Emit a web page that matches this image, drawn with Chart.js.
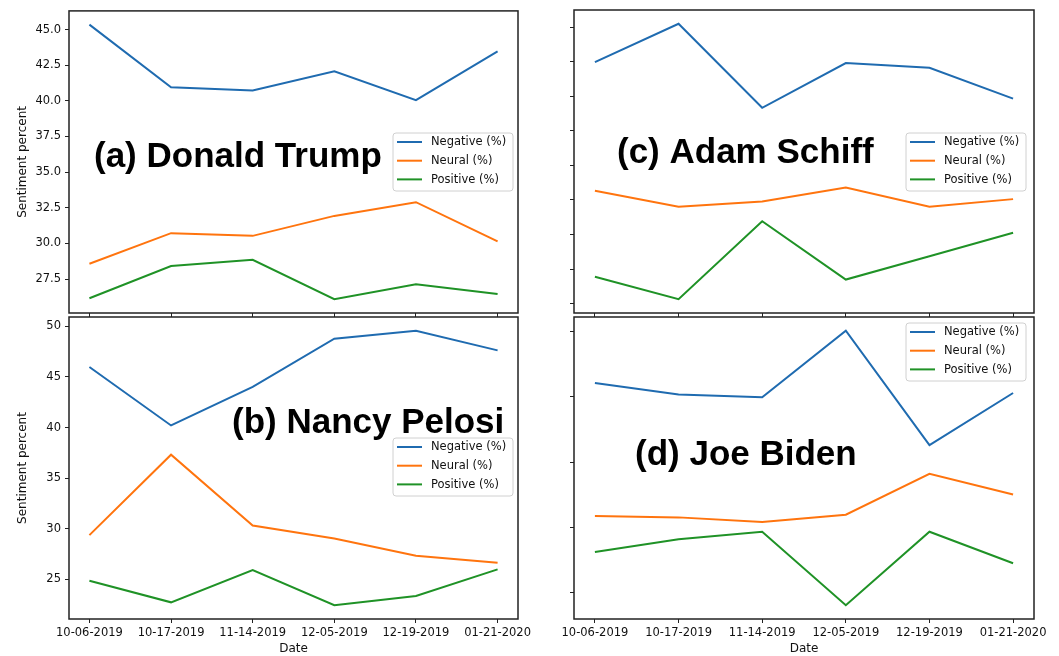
<!DOCTYPE html>
<html>
<head>
<meta charset="utf-8">
<title>Sentiment percent by date</title>
<script src="https://cdn.jsdelivr.net/npm/chart.js@4"></script>
<style>
  html, body { margin: 0; padding: 0; background: #fff; }
  #wrap { position: relative; width: 1059px; height: 656px; }
  #wrap canvas { position: absolute; left: 0; top: 0; }
</style>
</head>
<body>
<div id="wrap">
  <canvas id="trump" width="1059" height="656"></canvas>
  <canvas id="schiff" width="1059" height="656"></canvas>
  <canvas id="pelosi" width="1059" height="656"></canvas>
  <canvas id="biden" width="1059" height="656"></canvas>
</div>
<script>
// ---------- data ----------
const dates = ["10-06-2019", "10-17-2019", "11-14-2019", "12-05-2019", "12-19-2019", "01-21-2020"];
const seriesNames = ["Negative (%)", "Neural (%)", "Positive (%)"];

const trumpNeg = [45.35, 40.96, 40.73, 42.08, 40.05, 43.48];
const trumpNeu = [28.57, 30.72, 30.53, 31.93, 32.89, 30.14];
const trumpPos = [26.15, 28.41, 28.85, 26.08, 27.13, 26.45];

const pelosiNeg = [45.99, 40.21, 44.02, 48.78, 49.57, 47.63];
const pelosiNeu = [29.37, 37.32, 30.32, 29.04, 27.33, 26.64];
const pelosiPos = [24.87, 22.73, 25.92, 22.44, 23.36, 25.99];

const schiffNeg = [41.99, 44.21, 39.34, 41.93, 41.66, 39.87];
const schiffNeu = [34.53, 33.61, 33.91, 34.72, 33.61, 34.05];
const schiffPos = [29.55, 28.25, 32.77, 29.39, 30.74, 32.10];

const bidenNeg = [41.05, 40.17, 39.96, 45.05, 36.30, 40.29];
const bidenNeu = [30.88, 30.78, 30.42, 30.98, 34.11, 32.53];
const bidenPos = [28.13, 29.10, 29.68, 24.06, 29.68, 27.27];

const colors = ["#1f6bb0", "#ff740e", "#1f9226"];
const tickFont = { family: "'DejaVu Sans', sans-serif", size: 11.5 };
const W = 1059, H = 656;

// frame round the plot area (matplotlib style box)
const framePlugin = {
  id: "frame",
  afterDraw(chart) {
    const { ctx, chartArea: a } = chart;
    ctx.save();
    ctx.strokeStyle = "#222";
    ctx.lineWidth = 1.5;
    ctx.strokeRect(a.left, a.top, a.right - a.left, a.bottom - a.top);
    ctx.restore();
  }
};

// big panel caption + boxed legend inside the axes
const notesPlugin = {
  id: "notes",
  afterDatasetsDraw(chart, args, opts) {
    const ctx = chart.ctx;
    ctx.save();
    ctx.fillStyle = "#000";
    ctx.font = "bold 35px 'Liberation Sans', Arial, sans-serif";
    ctx.textBaseline = "alphabetic";
    ctx.textAlign = "left";
    ctx.fillText(opts.caption, opts.capX, opts.capY);

    // legend box
    const x = opts.legX, y = opts.legY, w = 120, h = 58, r = 3;
    ctx.beginPath();
    ctx.moveTo(x + r, y);
    ctx.arcTo(x + w, y, x + w, y + h, r);
    ctx.arcTo(x + w, y + h, x, y + h, r);
    ctx.arcTo(x, y + h, x, y, r);
    ctx.arcTo(x, y, x + w, y, r);
    ctx.closePath();
    ctx.fillStyle = "rgba(255,255,255,0.85)";
    ctx.fill();
    ctx.strokeStyle = "#d0d0d0";
    ctx.lineWidth = 1;
    ctx.stroke();

    ctx.font = "11.5px 'DejaVu Sans', sans-serif";
    ctx.textBaseline = "middle";
    chart.data.datasets.forEach((ds, i) => {
      const ry = y + 9 + i * 18.7;
      ctx.strokeStyle = ds.borderColor;
      ctx.lineWidth = 2;
      ctx.beginPath();
      ctx.moveTo(x + 4, ry);
      ctx.lineTo(x + 29, ry);
      ctx.stroke();
      ctx.fillStyle = "#111";
      ctx.fillText(ds.label, x + 38, ry + 0.5);
    });
    ctx.restore();
  }
};

function paddedRange(list) {
  const all = [].concat(...list);
  const lo = Math.min(...all), hi = Math.max(...all);
  const m = (hi - lo) * 0.05;
  return [lo - m, hi + m];
}

function makePanel(id, p) {
  const [ymin, ymax] = paddedRange(p.values);
  const datasets = p.values.map((vals, i) => ({
    label: seriesNames[i],
    data: vals.map((v, k) => ({ x: k, y: v })),
    borderColor: colors[i],
    backgroundColor: colors[i],
    borderWidth: 2,
    pointRadius: 0,
    tension: 0,
    fill: false
  }));

  new Chart(document.getElementById(id), {
    type: "line",
    data: { datasets },
    plugins: [framePlugin, notesPlugin],
    options: {
      responsive: false,
      animation: false,
      devicePixelRatio: 1,
      layout: {
        padding: { left: p.left - p.yWidth, top: p.top, right: W - p.right, bottom: H - p.bottom - p.xHeight }
      },
      plugins: {
        legend: { display: false },
        tooltip: { enabled: false },
        notes: p.notes
      },
      scales: {
        x: {
          type: "linear",
          min: -0.25,
          max: 5.25,
          afterFit: s => { s.height = p.xHeight; },
          border: { display: false },
          grid: { drawOnChartArea: false, drawTicks: true, tickLength: 4, tickColor: "#222", tickWidth: 1 },
          ticks: {
            display: p.xLabels,
            stepSize: 1,
            includeBounds: false,
            maxRotation: 0,
            autoSkip: false,
            padding: 3,
            color: "#111",
            font: tickFont,
            callback: v => dates[v]
          },
          title: {
            display: p.xLabels,
            text: "Date",
            color: "#111",
            font: { family: "'DejaVu Sans', sans-serif", size: 12 },
            padding: { top: 0, bottom: 0 }
          }
        },
        y: {
          min: ymin,
          max: ymax,
          afterFit: s => { s.width = p.yWidth; },
          border: { display: false },
          grid: { drawOnChartArea: false, drawTicks: true, tickLength: 4, tickColor: "#222", tickWidth: 1 },
          ticks: {
            display: p.yLabels,
            stepSize: p.step,
            includeBounds: false,
            padding: 4,
            color: "#111",
            font: tickFont,
            callback: v => v.toFixed(p.decimals)
          },
          title: {
            display: p.yLabels,
            text: "Sentiment percent",
            color: "#111",
            font: { family: "'DejaVu Sans', sans-serif", size: 12 },
            padding: { top: 16, bottom: 0 }
          }
        }
      }
    }
  });
}

// ---------- panels ----------
makePanel("trump", {
  values: [trumpNeg, trumpNeu, trumpPos],
  left: 69, right: 518, top: 10, bottom: 313,
  yWidth: 69, xHeight: 4, xLabels: false, yLabels: true, step: 2.5, decimals: 1,
  notes: { caption: "(a) Donald Trump", capX: 94, capY: 167, legX: 393, legY: 133 }
});

makePanel("schiff", {
  values: [schiffNeg, schiffNeu, schiffPos],
  left: 574, right: 1034, top: 10, bottom: 313,
  yWidth: 4, xHeight: 4, xLabels: false, yLabels: false, step: 2, decimals: 0,
  notes: { caption: "(c) Adam Schiff", capX: 617, capY: 163, legX: 906, legY: 133 }
});

makePanel("pelosi", {
  values: [pelosiNeg, pelosiNeu, pelosiPos],
  left: 69, right: 518, top: 317, bottom: 619,
  yWidth: 69, xHeight: 37, xLabels: true, yLabels: true, step: 5, decimals: 0,
  notes: { caption: "(b) Nancy Pelosi", capX: 232, capY: 433, legX: 393, legY: 438 }
});

makePanel("biden", {
  values: [bidenNeg, bidenNeu, bidenPos],
  left: 574, right: 1034, top: 317, bottom: 619,
  yWidth: 4, xHeight: 37, xLabels: true, yLabels: false, step: 5, decimals: 0,
  notes: { caption: "(d) Joe Biden", capX: 635, capY: 465, legX: 906, legY: 323 }
});
</script>
</body>
</html>
